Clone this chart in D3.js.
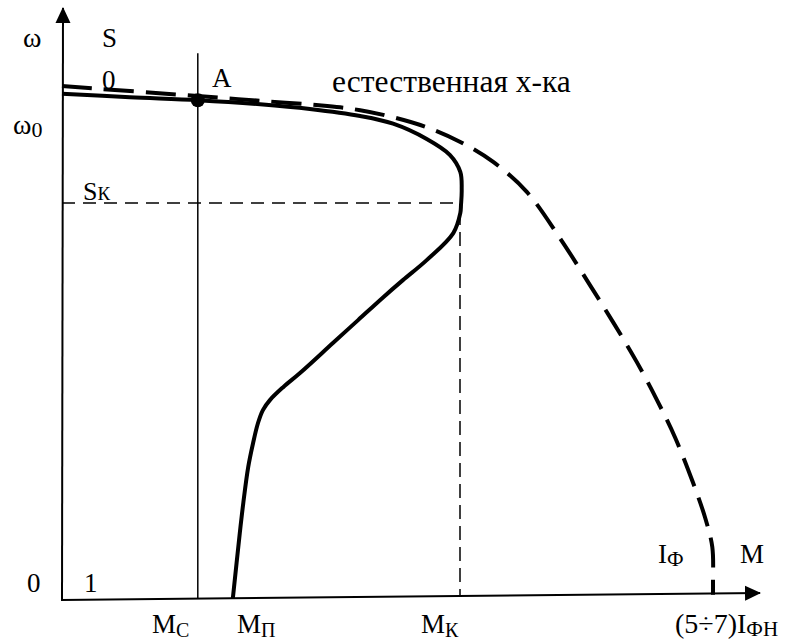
<!DOCTYPE html>
<html>
<head>
<meta charset="utf-8">
<script src="https://cdn.jsdelivr.net/npm/d3@7"></script>
<style>
  body { margin: 0; background: #fff; }
  text { font-family: "Liberation Serif", "Times New Roman", serif; fill: #000; }
</style>
</head>
<body>
<div id="chart"></div>
<script>
// chart size
var svgWidth = 792;
var svgHeight = 644;

// data: torque M (x) and speed omega (y), both normalised 0..1
// working characteristic (solid)
var workM = [0.000, 0.097, 0.194, 0.283, 0.354, 0.426, 0.473, 0.521, 0.554, 0.569, 0.571, 0.570, 0.569, 0.559, 0.521, 0.487, 0.459, 0.423, 0.387, 0.340, 0.316, 0.297, 0.287, 0.280, 0.273, 0.266, 0.259, 0.254, 0.244];
var workW = [0.861, 0.855, 0.850, 0.843, 0.835, 0.823, 0.810, 0.784, 0.757, 0.728, 0.697, 0.672, 0.658, 0.624, 0.578, 0.544, 0.515, 0.476, 0.437, 0.386, 0.362, 0.340, 0.323, 0.301, 0.267, 0.226, 0.165, 0.114, 0.002];
// natural characteristic (dashed)
var natM = [0.000, 0.194, 0.283, 0.379, 0.426, 0.473, 0.521, 0.569, 0.616, 0.664, 0.711, 0.754, 0.787, 0.821, 0.850, 0.876, 0.901, 0.919, 0.929, 0.930, 0.930];
var natW = [0.874, 0.857, 0.849, 0.840, 0.833, 0.821, 0.804, 0.779, 0.745, 0.694, 0.616, 0.536, 0.473, 0.405, 0.340, 0.276, 0.201, 0.139, 0.090, 0.029, 0.009];

// special points
var pointA = [0.194, 0.850];
var mC = 0.194;
var mK = 0.570;
var sK = 0.675;

// label texts
var labelTexts = {
  omega: "ω", s: "S", s0: "0", a: "A", omega0: ["ω", "0"], sk: ["S", "К"],
  natural: "естественная х-ка", zero: "0", one: "1",
  mc: ["M", "C"], mp: ["M", "П"], mk: ["M", "К"],
  iphi: ["I", "Ф"], m: "M", iphn: ["(5÷7)I", "ФН"]
};

var svg = d3.select("#chart")
  .append("svg")
  .attr("width", svgWidth)
  .attr("height", svgHeight);

var x = d3.scaleLinear().domain([0, 1]).range([62, 762]);
var y = d3.scaleLinear().domain([0, 1]).range([600, 12]);

// arrow marker
var defs = svg.append("defs");
defs.append("marker")
  .attr("id", "arrow")
  .attr("viewBox", "0 -8 16 16")
  .attr("refX", 15)
  .attr("refY", 0)
  .attr("markerUnits", "userSpaceOnUse")
  .attr("markerWidth", 16)
  .attr("markerHeight", 16)
  .attr("orient", "auto")
  .append("path")
  .attr("d", "M0,-7.5L16,0L0,7.5Z")
  .attr("fill", "#000");

// axes
svg.append("line")
  .attr("x1", x(0)).attr("y1", y(0) + 1)
  .attr("x2", x(0) + 1).attr("y2", y(1) - 4)
  .attr("stroke", "#000").attr("stroke-width", 2)
  .attr("marker-end", "url(#arrow)");

svg.append("line")
  .attr("x1", x(0) - 1).attr("y1", y(0))
  .attr("x2", x(1) - 2).attr("y2", y(0) - 7)
  .attr("stroke", "#000").attr("stroke-width", 2)
  .attr("marker-end", "url(#arrow)");

// Mc vertical line
svg.append("line")
  .attr("x1", x(mC)).attr("y1", y(0.93))
  .attr("x2", x(mC)).attr("y2", y(0) - 2)
  .attr("stroke", "#000").attr("stroke-width", 1.5);

// Sk and Mk dashed guides
svg.append("line")
  .attr("x1", x(0)).attr("y1", y(sK))
  .attr("x2", x(mK)).attr("y2", y(sK))
  .attr("stroke", "#000").attr("stroke-width", 1.5)
  .attr("stroke-dasharray", "13,8");

svg.append("line")
  .attr("x1", x(mK) - 1).attr("y1", y(sK) + 8)
  .attr("x2", x(mK) - 1).attr("y2", y(0) - 4)
  .attr("stroke", "#000").attr("stroke-width", 1.5)
  .attr("stroke-dasharray", "14,7");

var line = d3.line()
  .x(d => x(d[0]))
  .y(d => y(d[1]))
  .curve(d3.curveCatmullRom.alpha(0.5));

// natural characteristic
svg.append("path")
  .datum(d3.zip(natM, natW))
  .attr("d", line)
  .attr("fill", "none")
  .attr("stroke", "#000")
  .attr("stroke-width", 4)
  .attr("stroke-dasharray", "30,12");

// working characteristic
svg.append("path")
  .datum(d3.zip(workM, workW))
  .attr("d", line)
  .attr("fill", "none")
  .attr("stroke", "#000")
  .attr("stroke-width", 4);

// point A
svg.append("circle")
  .attr("cx", x(pointA[0]))
  .attr("cy", y(pointA[1]))
  .attr("r", 7)
  .attr("fill", "#000");

// labels
function label(t, px, py, size, subSize, subDy) {
  var el = svg.append("text")
    .attr("x", px)
    .attr("y", py)
    .attr("font-size", size);
  if (Array.isArray(t)) {
    el.append("tspan").text(t[0]);
    el.append("tspan")
      .attr("font-size", subSize)
      .attr("dy", subDy)
      .text(t[1]);
  } else {
    el.text(t);
  }
  return el;
}

label(labelTexts.omega, 23, 47, 28);
label(labelTexts.s, 102, 47, 27);
label(labelTexts.s0, 102, 89, 27);
label(labelTexts.a, 212, 87, 27);
label(labelTexts.omega0, 13, 134, 28, 22, 3);
label(labelTexts.sk, 83, 200, 26, 19, 0);
label(labelTexts.natural, 332, 92, 31.5);
label(labelTexts.zero, 27, 592, 27);
label(labelTexts.one, 84, 592, 27);
label(labelTexts.mc, 152, 633, 27, 20, 4);
label(labelTexts.mp, 237, 633, 27, 20, 4);
label(labelTexts.mk, 421, 633, 27, 20, 4);
label(labelTexts.iphi, 658, 563, 27, 21, 3);
label(labelTexts.m, 740, 563, 27);
label(labelTexts.iphn, 675, 633, 28, 21, 3);
</script>
</body>
</html>
